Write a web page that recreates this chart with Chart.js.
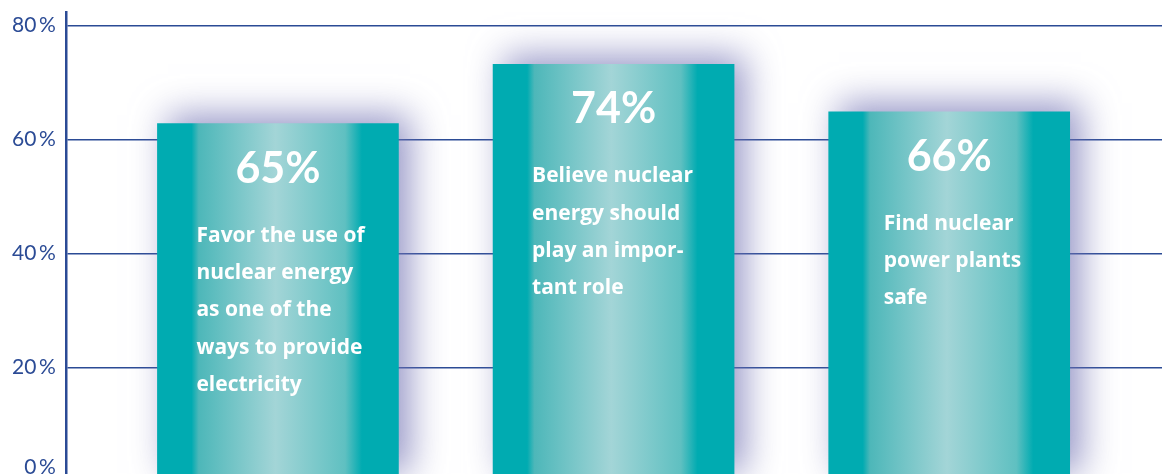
<!DOCTYPE html>
<html>
<head>
<meta charset="utf-8">
<script src="https://cdn.jsdelivr.net/npm/chart.js@4.4.1/dist/chart.umd.min.js"></script>
<style>
    html, body { margin: 0; padding: 0; background: #fff; overflow: hidden; }
    #wrap { width: 1162px; height: 514px; margin-top: -10px; }
</style>
</head>
<body>
<div id="wrap"><canvas id="bar-chart"></canvas></div>
<script>
// data
const positions = [1, 2, 3];
const values = [62.8, 73.2, 64.9];
const percentLabels = ['65%', '74%', '66%'];
const descriptions = [
    ['Favor the use of', 'nuclear energy', 'as one of the', 'ways to provide', 'electricity'],
    ['Believe nuclear', 'energy should', 'play an impor-', 'tant role'],
    ['Find nuclear', 'power plants', 'safe'],
];
const textIndent = [39, 39, 55];
const yTicks = [0, 20, 40, 60, 80];

const TEAL = '#00abb1';
const AXIS = '#2b4b95';
const tickFormat = (v) => v + '\u2009%';

const barGradient = (context) => {
    const chart = context.chart;
    if (!chart.chartArea || !context.raw) {
        return TEAL;
    }
    const cx = chart.scales.x.getPixelForValue(context.raw.x);
    const g = chart.ctx.createLinearGradient(cx - 120, 0, cx + 120, 0);
    g.addColorStop(0, TEAL);
    g.addColorStop(0.14, TEAL);
    g.addColorStop(0.17, '#4db7b9');
    g.addColorStop(0.49, '#a3d5d7');
    g.addColorStop(0.78, '#5fc0c1');
    g.addColorStop(0.85, TEAL);
    g.addColorStop(1, TEAL);
    return g;
};

const barShadow = {
    id: 'barShadow',
    beforeDatasetDraw(chart) {
        const ctx = chart.ctx;
        ctx.save();
        ctx.shadowColor = 'rgba(115, 115, 180, 0.75)';
        ctx.shadowBlur = 34;
        ctx.shadowOffsetX = 11;
        ctx.shadowOffsetY = -8;
    },
    afterDatasetDraw(chart) {
        chart.ctx.restore();
    }
};

// the 0 % label sits a little above its line in the original
const zeroLabel = {
    id: 'zeroLabel',
    afterDraw(chart) {
        const ctx = chart.ctx;
        const y = chart.scales.y;
        ctx.save();
        ctx.fillStyle = AXIS;
        ctx.font = '21px Lato';
        ctx.textAlign = 'right';
        ctx.textBaseline = 'middle';
        ctx.fillText(tickFormat(0), y.right - 10, y.getPixelForValue(0) - 14);
        ctx.restore();
    }
};

const barText = {
    id: 'barText',
    afterDatasetsDraw(chart) {
        const ctx = chart.ctx;
        const meta = chart.getDatasetMeta(0);
        ctx.save();
        ctx.fillStyle = '#fff';
        meta.data.forEach((bar, i) => {
            ctx.textAlign = 'center';
            ctx.textBaseline = 'middle';
            ctx.font = 'bold 43px Lato';
            ctx.fillText(percentLabels[i], bar.x, bar.y + 45);

            ctx.textAlign = 'left';
            ctx.font = 'bold 21px "Open Sans"';
            const left = bar.x - bar.width / 2 + textIndent[i];
            descriptions[i].forEach((line, j) => {
                ctx.fillText(line, left, bar.y + 112 + j * 37.3);
            });
        });
        ctx.restore();
    }
};

new Chart(document.getElementById('bar-chart'), {
    type: 'bar',
    data: {
        datasets: [{
            data: positions.map((x, i) => ({ x: x, y: values[i] })),
            backgroundColor: barGradient,
            borderWidth: 0,
            barThickness: 241,
        }]
    },
    options: {
        responsive: true,
        maintainAspectRatio: false,
        animation: false,
        layout: {
            padding: { top: 0, right: 0, bottom: 0, left: 2 }
        },
        plugins: {
            legend: { display: false },
            tooltip: { enabled: false },
        },
        scales: {
            x: {
                type: 'linear',
                offset: false,
                min: 0.368,
                max: 3.634,
                display: false,
            },
            y: {
                min: 0,
                max: 82.3,
                afterBuildTicks: (scale) => {
                    scale.ticks = yTicks.map(v => ({ value: v }));
                },
                border: { display: true, color: AXIS, width: 2.5 },
                grid: {
                    color: AXIS,
                    lineWidth: 1.5,
                    drawTicks: false,
                },
                ticks: {
                    padding: 10,
                    color: AXIS,
                    font: { family: 'Lato', size: 21 },
                    callback: (v) => v === 0 ? '' : tickFormat(v),
                },
            },
        },
    },
    plugins: [barShadow, barText, zeroLabel],
});
</script>
</body>
</html>
